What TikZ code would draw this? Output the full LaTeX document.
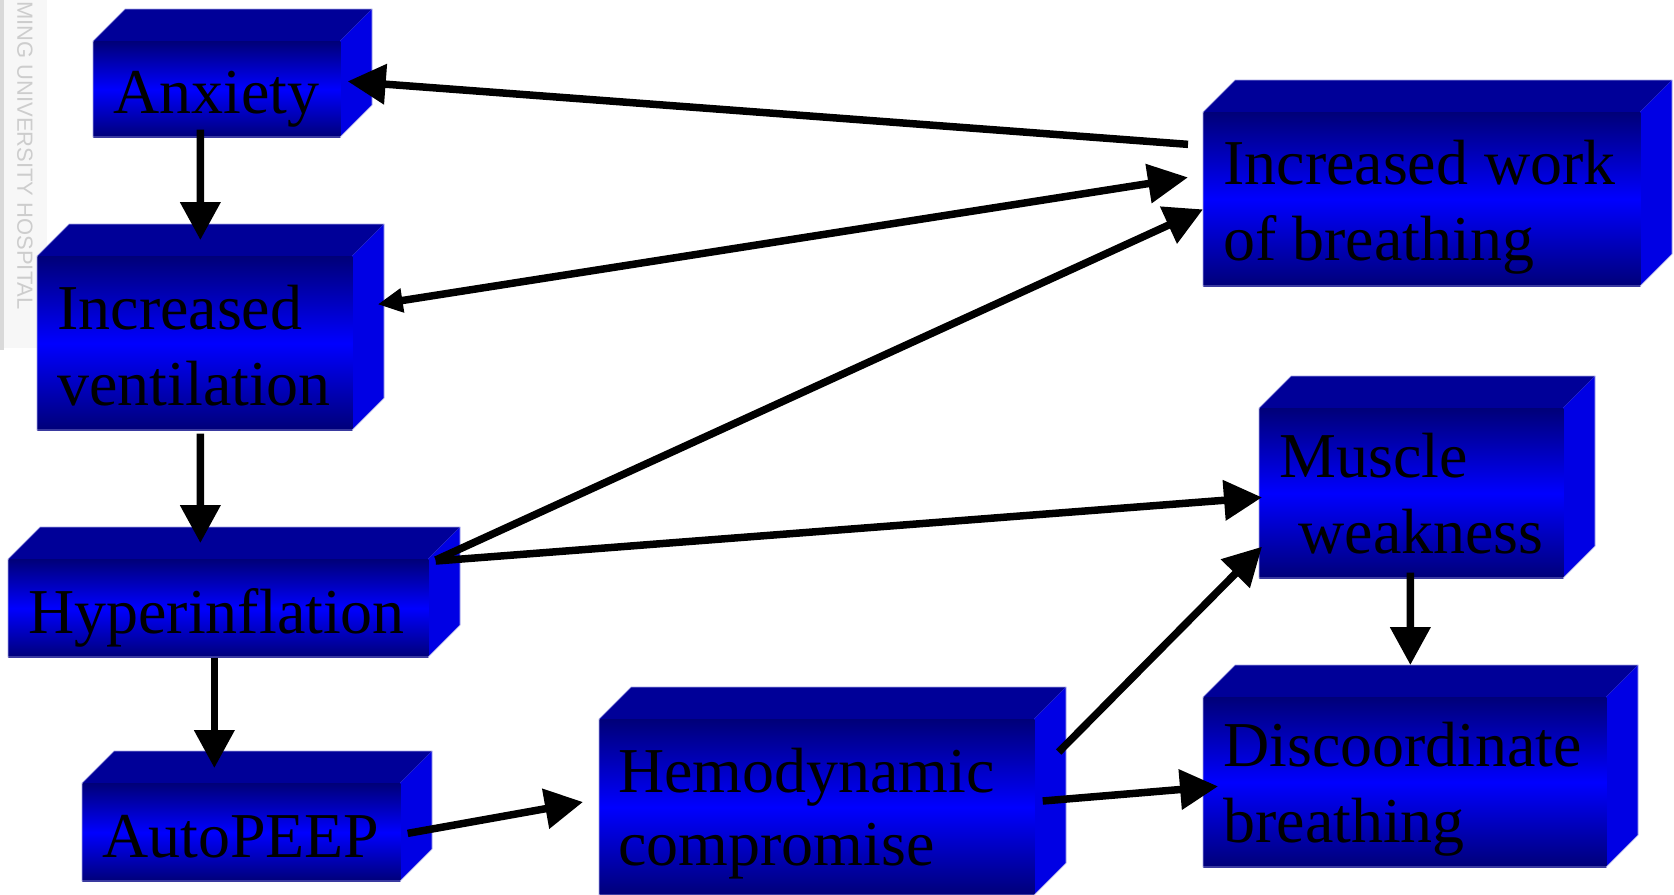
\documentclass[tikz,border=0pt]{standalone}
\usepackage{fontspec}
\setmainfont{Liberation Serif}
\setsansfont{Liberation Sans}
\usetikzlibrary{arrows.meta,calc}

\definecolor{boxnavy}{RGB}{0,0,120}
\definecolor{boxblue}{RGB}{0,0,255}
\definecolor{boxtop}{RGB}{0,0,152}
\definecolor{boxside}{RGB}{0,0,228}
\definecolor{edgegray}{RGB}{165,165,230}
\definecolor{wmgray}{RGB}{205,205,205}

\tikzset{
  topface/.style={fill=boxtop},
  sideface/.style={fill=boxside},
  frontface/.style={top color=boxnavy, bottom color=boxnavy, middle color=boxblue, inner sep=0pt, anchor=north west},
  boxedge/.style={draw=edgegray, line width=0.4pt},
  lbl/.style={font=\fontsize{36.4}{42.7}\selectfont, align=left, anchor=base west, inner sep=0pt},
  flow/.style={line width=0.15cm, -{Triangle[length=0.76cm,width=0.78cm]}},
  twoway/.style={line width=0.15cm, {Triangle[length=0.5cm,width=0.46cm]}-{Triangle[length=0.8cm,width=0.76cm]}},
}

\begin{document}
\begin{tikzpicture}[x=0.02cm, y=-0.02cm]
  \useasboundingbox (0,0) rectangle (1674,894);
  \clip (0,0) rectangle (1674,894);

  % Watermark strip on the left
  \fill[black!15] (0,0) rectangle (4,350);
  \fill[black!3] (4,0) rectangle (47,348);
  \node[font=\sffamily\fontsize{12.5}{15}\selectfont, text=wmgray, rotate=-90, anchor=east, inner sep=0pt] (wm) at (25,310) {MING UNIVERSITY HOSPITAL};

  % The 3D boxes: top, right side, front face, outline
  \foreach \nm/\x/\y/\w/\h in {anx/93/41/247/96, vent/37/256/315/174, work/1203/112/437/174,
      hyper/8/559/420/98, peep/82/783/318/98, hemo/599/719/435/176,
      musc/1259/408/304/170, disc/1203/697/403/170} {
    \fill[topface] (\x,\y) -- ++(32,-32) -- ++(\w,0) -- ++(-32,32) -- cycle; % top
    \fill[sideface] (\x+\w,\y) -- ++(32,-32) -- ++(0,\h) -- ++(-32,32) -- cycle; % right side
    \node[frontface, minimum width=\w*0.02cm, minimum height=\h*0.02cm] (\nm) at (\x,\y) {}; % front
    \draw[boxedge] (\x,\y+\h) -- (\x,\y) -- ++(32,-32) -- ++(\w,0) -- ++(0,\h) -- ++(-32,32) -- cycle;
  }

  % Labels (base = baseline of the last line)
  \node[lbl] (anx-t) at (113,113) {Anxiety};
  \node[lbl] (vent-t) at (57,405) {Increased\\ventilation};
  \node[lbl] (work-t) at (1223,260) {Increased work\\of breathing};
  \node[lbl] (hyper-t) at (28,633) {Hyperinflation};
  \node[lbl] (peep-t) at (102,857) {AutoPEEP};
  \node[lbl, font=\fontsize{36.4}{41}\selectfont] (hemo-t) at (618,865) {Hemodynamic\\compromise};
  \node[lbl] (musc-t) at (1279,553) {Muscle\\\hspace*{0.3em}weakness};
  \node[lbl] (disc-t) at (1223,842) {Discoordinate\\breathing};

  % Arrows
  \draw[flow] ($(anx.south)+(-16.5,-8)$) -- ($(vent.north)+(5.5,-16)$);
  \draw[flow] ($(vent.south)+(5.5,3)$) -- ($(hyper.north)+(-18,-16)$);
  \draw[flow] ($(hyper.south)+(-4,0)$) -- ($(peep.north)+(-27,-15)$);
  \draw[flow] ($(work.west)+(-15,-55)$) -- ($(anx.east)+(7,-8)$);
  \draw[twoway] ($(vent.east)+(25,-39)$) -- ($(work.west)+(-15,-22)$);
  \draw[flow] ($(hyper.north east)+(7,1)$) -- ($(work.west)+(0,10)$);
  \draw[flow] ($(hyper.north east)+(7,2)$) -- ($(musc.west)+(3,4)$);
  \draw[flow] ($(peep.east)+(7,1)$) -- ($(hemo.north west)+(-16,83)$);
  \draw[flow] ($(hemo.north east)+(24,33)$) -- ($(musc.south west)+(3,-32)$);
  \draw[flow] ($(hemo.north east)+(8,82)$) -- ($(disc.west)+(15,4)$);
  \draw[flow] ($(musc.south)+(-1,-6)$) -- ($(disc.north)+(5.5,-32)$);
\end{tikzpicture}
\end{document}
